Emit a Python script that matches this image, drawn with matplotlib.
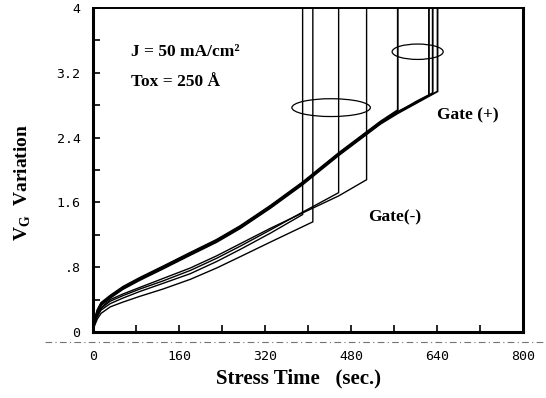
import matplotlib
matplotlib.use("Agg")
import matplotlib.pyplot as plt
from matplotlib.patches import Ellipse
from matplotlib.lines import Line2D

plt.rcParams["mathtext.fontset"] = "custom"
plt.rcParams["mathtext.rm"] = "Liberation Serif"
plt.rcParams["mathtext.bf"] = "Liberation Serif:bold"

# ---------------- data ----------------
x_ticks = [0, 160, 320, 480, 640, 800]
x_tick_labels = ["0", "160", "320", "480", "640", "800"]
y_ticks = [0, 0.8, 1.6, 2.4, 3.2, 4.0]
y_tick_labels = ["0", ".8", "1.6", "2.4", "3.2", "4"]

# Gate(+) curves (bundle), time (s) / VG variation (V)
gp1_t = [0, 3, 8, 15, 32, 56, 87, 130, 181, 230, 274, 330, 390, 457, 535, 567]
gp1_v = [0, 0.15, 0.27, 0.36, 0.45, 0.56, 0.67, 0.81, 0.98, 1.14, 1.31, 1.56, 1.85, 2.21, 2.60, 2.74]
gp2_t = [0, 3, 8, 15, 32, 56, 87, 130, 181, 230, 274, 330, 390, 457, 535, 567, 600, 625]
gp2_v = [0, 0.14, 0.26, 0.35, 0.44, 0.55, 0.66, 0.80, 0.97, 1.13, 1.30, 1.55, 1.84, 2.20, 2.59, 2.72, 2.83, 2.92]
gp3_t = [0, 3, 8, 15, 32, 56, 87, 130, 181, 230, 274, 330, 390, 457, 535, 567, 600, 632]
gp3_v = [0, 0.13, 0.25, 0.34, 0.43, 0.54, 0.65, 0.79, 0.96, 1.12, 1.29, 1.54, 1.83, 2.19, 2.58, 2.71, 2.84, 2.95]
gp4_t = [0, 3, 8, 15, 32, 56, 87, 130, 181, 230, 274, 330, 390, 457, 535, 567, 600, 641]
gp4_v = [0, 0.12, 0.24, 0.33, 0.42, 0.53, 0.64, 0.78, 0.95, 1.11, 1.28, 1.53, 1.82, 2.18, 2.57, 2.70, 2.82, 2.97]

# Gate(-) curves
gn1_t = [0, 3, 8, 15, 32, 56, 87, 130, 181, 230, 274, 330, 390, 457, 509]
gn1_v = [0, 0.12, 0.22, 0.30, 0.40, 0.47, 0.55, 0.66, 0.79, 0.94, 1.09, 1.28, 1.47, 1.68, 1.88]
gn2_t = [0, 3, 8, 15, 32, 56, 87, 130, 181, 230, 274, 330, 390, 457]
gn2_v = [0, 0.11, 0.21, 0.29, 0.38, 0.45, 0.53, 0.63, 0.76, 0.91, 1.06, 1.26, 1.48, 1.72]
gn3_t = [0, 3, 8, 15, 32, 56, 87, 130, 181, 230, 274, 330, 390]
gn3_v = [0, 0.10, 0.19, 0.27, 0.35, 0.42, 0.50, 0.60, 0.72, 0.87, 1.02, 1.22, 1.45]
gn4_t = [0, 3, 8, 15, 32, 56, 87, 130, 181, 230, 274, 330, 390, 409]
gn4_v = [0, 0.08, 0.16, 0.23, 0.31, 0.37, 0.44, 0.53, 0.65, 0.79, 0.93, 1.11, 1.30, 1.36]

breakdown_level = 4.0

# ---------------- figure ----------------
fig = plt.figure(figsize=(5.46, 3.98), dpi=100)
ax = fig.add_axes([93 / 546, 1 - 332 / 398, (523 - 93) / 546, (332 - 8) / 398])

serif = ["Liberation Serif", "DejaVu Serif"]
mono = ["DejaVu Sans Mono"]

def draw(t, v, lw):
    tt = list(t) + [t[-1]]
    vv = list(v) + [breakdown_level]
    ax.plot(tt, vv, color="black", lw=lw, solid_joinstyle="miter")

for t, v in [(gp1_t, gp1_v), (gp2_t, gp2_v), (gp3_t, gp3_v), (gp4_t, gp4_v)]:
    draw(t, v, 1.3)
for t, v in [(gn1_t, gn1_v), (gn2_t, gn2_v), (gn3_t, gn3_v), (gn4_t, gn4_v)]:
    draw(t, v, 1.0)

ax.set_xlim(0, 800)
ax.set_ylim(0, 4.0)

ax.set_xticks(x_ticks)
ax.set_xticklabels(x_tick_labels, fontfamily=mono, fontsize=9.5)
ax.set_yticks(y_ticks)
ax.set_yticklabels(y_tick_labels, fontfamily=mono, fontsize=9.5)
ax.set_xticks([80, 240, 400, 560, 720], minor=True)
ax.set_yticks([0.4, 1.2, 2.0, 2.8, 3.6], minor=True)
ax.tick_params(axis="both", which="both", direction="in", length=5, width=1.2, color="black")
ax.tick_params(axis="x", which="major", pad=13)
ax.tick_params(axis="y", which="major", pad=9)

for side in ["left", "bottom", "right"]:
    ax.spines[side].set_linewidth(2.2)
ax.spines["top"].set_linewidth(1.4)

ax.set_xlabel("Stress Time   (sec.)", fontfamily=serif, fontweight="bold", fontsize=15)
ax.xaxis.set_label_coords(0.479, -0.112)
ax.set_ylabel(r"V$_{\mathbf{G}}$  Variation", fontfamily=serif, fontweight="bold", fontsize=14)
ax.yaxis.set_label_coords(-0.14, 0.46)

# annotations
ax.text(70, 3.46, "J = 50 mA/cm\u00b2", fontfamily=serif, fontweight="bold", fontsize=12.5, va="center")
ax.text(70, 3.09, "Tox = 250 \u00c5", fontfamily=serif, fontweight="bold", fontsize=12.5, va="center")
ax.text(640, 2.68, "Gate (+)", fontfamily=serif, fontweight="bold", fontsize=12.5, va="center")
ax.text(512, 1.42, "Gate(-)", fontfamily=serif, fontweight="bold", fontsize=12.5, va="center")

ax.add_patch(Ellipse((443, 2.77), 146, 0.22, fill=False, lw=0.9, color="black"))
ax.add_patch(Ellipse((604, 3.46), 95, 0.19, fill=False, lw=0.9, color="black"))

# scan line below the axis
fig.add_artist(Line2D([45 / 546, 1.0], [1 - 342 / 398, 1 - 342 / 398], transform=fig.transFigure,
                      color="0.45", lw=0.8, ls=(0, (6, 3, 1, 3))))

fig.savefig("out.png", dpi=100)
